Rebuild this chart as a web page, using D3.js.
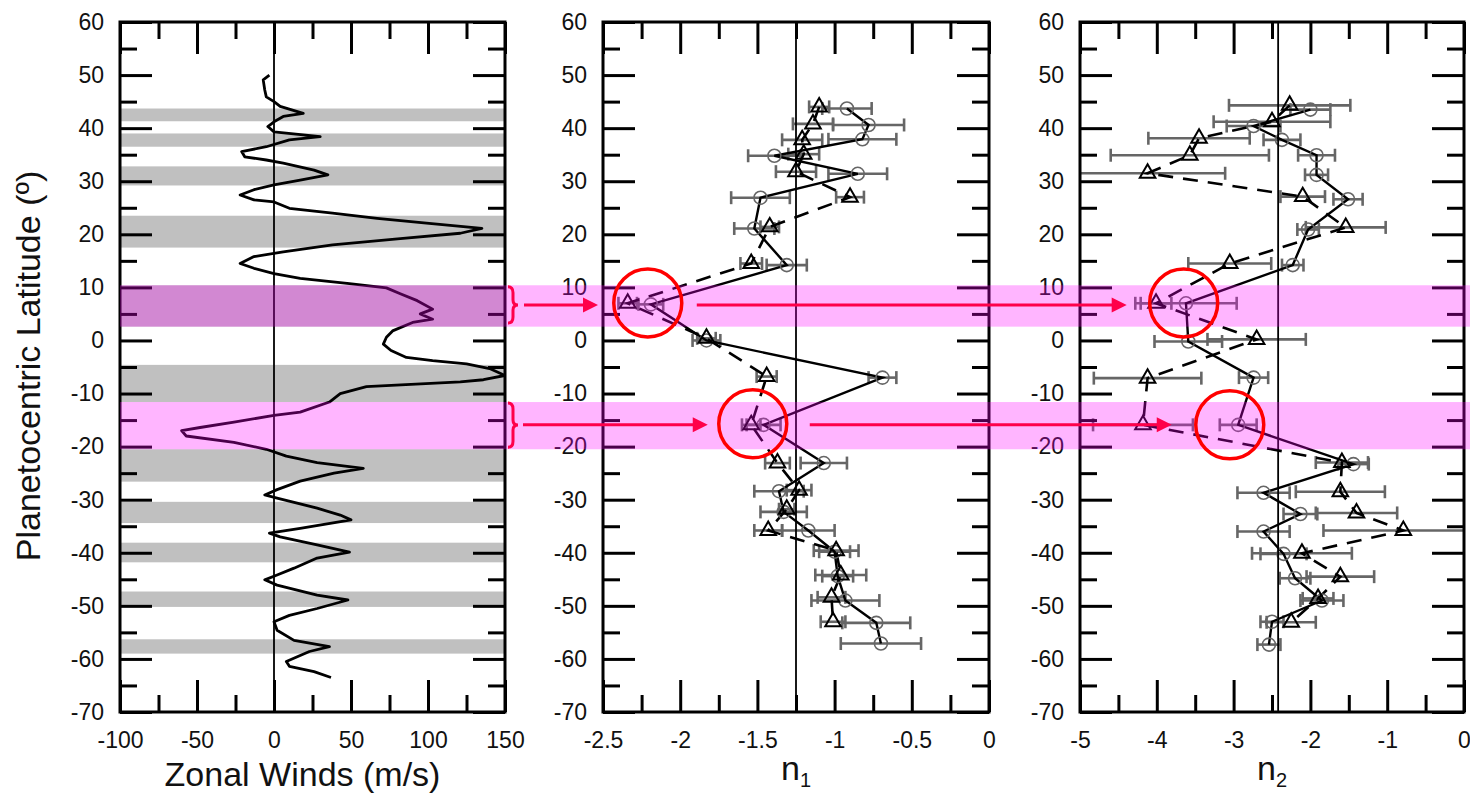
<!DOCTYPE html>
<html>
<head>
<meta charset="utf-8">
<script src="https://cdn.jsdelivr.net/npm/d3@7"></script>
<style>
body { margin: 0; background: #fff; }
text { font-family: "Liberation Sans", Arial, sans-serif; fill: #111; }
</style>
</head>
<body>
<svg id="chart" width="1470" height="795"></svg>
<script>
// ---- zonal wind profile (lat in deg, u in m/s) ----
var windLat = [50.0, 49.1, 47.2, 45.9, 45.0, 44.1, 42.8, 42.2, 41.2, 40.3,
               39.3, 38.4, 37.8, 36.5, 35.6, 34.6, 34.0, 33.4, 32.1, 31.2,
               30.2, 29.3, 28.4, 27.4, 26.5, 26.1, 24.9, 24.0, 23.0, 22.1,
               21.1, 20.2, 19.2, 18.0, 16.7, 15.8, 14.5, 13.6, 12.6, 11.7,
               10.7, 9.9, 8.8, 7.5, 5.9, 5.0, 4.0, 3.4, 1.8, 0.6,
               -0.7, -1.9, -3.2, -3.8, -4.4, -5.3, -6.6, -7.4, -7.8, -8.7,
               -10.0, -11.6, -13.5, -14.1, -15.4, -16.4, -17.0, -18.0, -19.2, -20.5,
               -21.8, -23.0, -24.1, -25.0, -26.5, -28.1, -29.1, -29.7, -31.6, -32.9,
               -33.8, -35.4, -36.3, -37.0, -38.5, -39.9, -41.0, -42.9, -44.2, -45.1,
               -46.1, -48.0, -48.9, -50.5, -51.8, -53.0, -54.6, -56.5, -57.7, -58.6,
               -60.5, -61.4, -62.4, -63.5];
var windU   = [-3, -7, -6, -5, 0, 4, 19, 6, 0, -4,
               0, 30, 10, -5, -21, -19, -5, 6, 26, 35,
               17, 0, -13, -22, -13, 0, 10, 38, 67, 99,
               135, 121, 82, 38, 6, -13, -22, -13, 0, 17,
               49, 73, 82, 93, 103, 95, 103, 90, 77, 73,
               71, 76, 86, 103, 125, 140, 150, 136, 121, 60,
               43, 36, 17, 0, -26, -48, -60, -57, -26, -5,
               8, 28, 58, 39, 17, 2, -6, 2, 28, 43,
               50, 17, -3, 4, 28, 49, 28, 13, 2, -6,
               2, 28, 48, 28, 10, 0, 2, 13, 36, 23,
               8, 10, 26, 37];

// gray latitude bands (north, south)
var grayBands = [[43.7, 41.3], [39.0, 36.5], [32.8, 29.2], [23.5, 17.5], [10.4, 2.6],
                 [-4.6, -11.6], [-20.5, -26.6], [-30.4, -34.4], [-38.1, -41.8],
                 [-47.3, -50.2], [-56.3, -59.0]];
// highlighted (pink) bands
var pinkBands = [[10.4, 2.6], [-11.6, -20.5]];

// ---- n1 ----
var n1CircLat = [43.7, 40.6, 37.9, 34.8, 31.4, 26.9, 21.1, 14.2, 6.8, 0.0, -7.0,
                 -15.9, -23.1, -28.4, -32.3, -35.8, -39.8, -44.4, -49.0, -53.2, -57.1];
var n1CircVal = [-0.92, -0.78, -0.82, -1.39, -0.85, -1.48, -1.52, -1.31, -2.19, -1.83, -0.69,
                 -1.46, -1.07, -1.36, -1.33, -1.17, -1.00, -0.98, -0.93, -0.73, -0.70];
var n1CircErr = [0.16, 0.23, 0.22, 0.17, 0.19, 0.19, 0.13, 0.13, 0.08, 0.09, 0.09,
                 0.11, 0.15, 0.16, 0.15, 0.17, 0.10, 0.10, 0.22, 0.22, 0.26];
var n1TriLat = [44.0, 40.8, 37.8, 35.1, 31.8, 27.0, 21.4, 14.5, 7.0, 0.4, -6.8,
                -15.9, -23.1, -28.2, -31.8, -35.8, -39.6, -44.2, -48.4, -53.0];
var n1TriVal = [-1.10, -1.14, -1.21, -1.20, -1.25, -0.90, -1.42, -1.54, -2.34, -1.83, -1.44,
                -1.54, -1.37, -1.23, -1.31, -1.43, -0.99, -0.96, -1.02, -1.01];
var n1TriErr = [0.065, 0.13, 0.13, 0.10, 0.13, 0.09, 0.06, 0.07, 0.06, 0.06, 0.065,
                0.06, 0.08, 0.08, 0.05, 0.09, 0.145, 0.165, 0.09, 0.08];

// ---- n2 ----
var n2CircLat = [43.5, 40.4, 37.8, 34.9, 31.2, 26.6, 20.9, 14.2, 7.0, -0.2, -7.0,
                 -15.9, -23.3, -28.7, -32.7, -36.0, -40.2, -44.8, -49.0, -53.0, -57.3];
var n2CircVal = [-2.00, -2.74, -2.37, -1.92, -1.92, -1.51, -2.03, -2.23, -3.62, -3.59, -2.74,
                 -2.94, -1.44, -2.61, -2.13, -2.61, -2.35, -2.20, -1.85, -2.50, -2.54];
var n2CircErr = [0.26, 0.35, 0.24, 0.24, 0.15, 0.19, 0.14, 0.14, 0.66, 0.44, 0.19,
                 0.24, 0.20, 0.34, 0.22, 0.34, 0.30, 0.20, 0.28, 0.15, 0.15];
var n2TriLat = [44.3, 41.2, 38.1, 34.9, 31.5, 27.1, 21.3, 14.5, 7.0, 0.2, -7.1,
                -15.9, -23.0, -28.5, -32.5, -35.8, -40.1, -44.5, -48.6, -53.1];
var n2TriVal = [-2.27, -2.50, -3.45, -3.57, -4.12, -2.10, -1.54, -3.05, -4.01, -2.70, -4.12,
                -4.18, -1.59, -1.61, -1.40, -0.79, -2.11, -1.61, -1.90, -2.25];
var n2TriErr = [0.79, 0.76, 0.66, 1.03, 1.01, 0.29, 0.52, 0.54, 0.20, 0.64, 0.70,
                0.65, 0.34, 0.58, 0.53, 1.04, 0.65, 0.44, 0.20, 0.32];

// annotation anchors
var arrowLat = [6.7, -15.9];
var braceLat = [[10.1, 3.3], [-11.8, -20.1]];
var ringN1 = [-2.21, -1.53], ringN1Lat = [7.06, -15.7];
var ringN2 = [-3.65, -3.05], ringN2Lat = [7.06, -15.9];

var latMajor = d3.range(-70, 61, 10);
var latMinor = d3.range(-65, 60, 10);

var panels = [
  {x0: 120, x1: 505, domain: [-100, 150], major: 50, ref: 0, title: "Zonal Winds (m/s)"},
  {x0: 603, x1: 989, domain: [-2.5, 0], major: 0.5, ref: -1.25, title: "n", sub: "1"},
  {x0: 1080, x1: 1464, domain: [-5, 0], major: 1, ref: -2.42, title: "n", sub: "2"}
];

var svg = d3.select("#chart");
var y = d3.scaleLinear().domain([-70, 60]).range([712, 22]);
var fmt = function(d) { return String(+d.toFixed(2)); };

function steps(d0, d1, s) {
  var n = Math.round((d1 - d0) / s), out = [];
  for (var i = 0; i <= n; i++) out.push(+(d0 + i * s).toFixed(4));
  return out;
}

function styleAxis(g) {
  g.select(".domain").remove();
  g.selectAll(".tick line").attr("stroke", "#000").attr("stroke-width", 3);
  g.attr("font-family", null).attr("font-size", null);
  g.selectAll(".tick text").style("font-size", "23px").attr("fill", "#111");
}

panels.forEach(function(p, i) {
  var x = d3.scaleLinear().domain(p.domain).range([p.x0, p.x1]);
  p.x = x;
  var g = svg.append("g");

  g.append("clipPath").attr("id", "clip" + i)
    .append("rect").attr("x", p.x0).attr("y", 22).attr("width", p.x1 - p.x0).attr("height", 690);
  var data = g.append("g").attr("clip-path", "url(#clip" + i + ")");

  if (i == 0) {
    data.selectAll("rect.band").data(grayBands).enter().append("rect")
      .attr("x", p.x0).attr("width", p.x1 - p.x0)
      .attr("y", function(d) { return y(d[0]); })
      .attr("height", function(d) { return y(d[1]) - y(d[0]); })
      .attr("fill", "#c0c0c0");
    var wind = windLat.map(function(l, k) { return [windU[k], l]; });
    data.append("path").datum(wind)
      .attr("d", d3.line().x(function(d) { return x(d[0]); }).y(function(d) { return y(d[1]); }))
      .attr("fill", "none").attr("stroke", "#000").attr("stroke-width", 2.8)
      .attr("stroke-linejoin", "round");
  } else {
    var circ = i == 1 ? [n1CircLat, n1CircVal, n1CircErr] : [n2CircLat, n2CircVal, n2CircErr];
    var tri = i == 1 ? [n1TriLat, n1TriVal, n1TriErr] : [n2TriLat, n2TriVal, n2TriErr];
    var cs = circ[0].map(function(l, k) { return {lat: l, v: circ[1][k], e: circ[2][k]}; });
    var ts = tri[0].map(function(l, k) { return {lat: l, v: tri[1][k], e: tri[2][k]}; });

    [cs, ts].forEach(function(s) {
      var eb = data.append("g").attr("stroke", "#666").attr("stroke-width", 2.6);
      s.forEach(function(d) {
        var yy = y(d.lat), xa = x(d.v - d.e), xb = x(d.v + d.e);
        eb.append("line").attr("x1", xa).attr("x2", xb).attr("y1", yy).attr("y2", yy);
        eb.append("line").attr("x1", xa).attr("x2", xa).attr("y1", yy - 6.5).attr("y2", yy + 6.5);
        eb.append("line").attr("x1", xb).attr("x2", xb).attr("y1", yy - 6.5).attr("y2", yy + 6.5);
      });
    });

    var line = d3.line().x(function(d) { return x(d.v); }).y(function(d) { return y(d.lat); });
    data.append("path").datum(cs).attr("d", line)
      .attr("fill", "none").attr("stroke", "#000").attr("stroke-width", 2.4);
    data.append("path").datum(ts).attr("d", line)
      .attr("fill", "none").attr("stroke", "#000").attr("stroke-width", 2.6)
      .attr("stroke-dasharray", "15,10");

    data.selectAll("circle.m").data(cs).enter().append("circle")
      .attr("cx", function(d) { return x(d.v); }).attr("cy", function(d) { return y(d.lat); })
      .attr("r", 6.5).attr("fill", "none").attr("stroke", "#666").attr("stroke-width", 1.6);
    var sym = d3.symbol().type(d3.symbolTriangle).size(105);
    data.selectAll("path.t").data(ts).enter().append("path")
      .attr("transform", function(d) { return "translate(" + x(d.v) + "," + y(d.lat) + ")"; })
      .attr("d", sym).attr("fill", "none").attr("stroke", "#000").attr("stroke-width", 2);
  }

  // reference vertical line
  g.append("line").attr("x1", x(p.ref)).attr("x2", x(p.ref)).attr("y1", 22).attr("y2", 712)
    .attr("stroke", "#000").attr("stroke-width", 1.8);

  // axes, ticks inside on all sides
  var xMaj = steps(p.domain[0], p.domain[1], p.major);
  var xMin = steps(p.domain[0] + p.major / 2, p.domain[1] - p.major / 2, p.major);
  g.append("g").attr("transform", "translate(0,712)")
    .call(d3.axisBottom(x).tickValues(xMaj).tickSize(-32).tickPadding(20).tickFormat(fmt)).call(styleAxis);
  g.append("g").attr("transform", "translate(0,712)")
    .call(d3.axisBottom(x).tickValues(xMin).tickSize(-17).tickFormat("")).call(styleAxis);
  g.append("g").attr("transform", "translate(0,22)")
    .call(d3.axisTop(x).tickValues(xMaj).tickSize(-32).tickFormat("")).call(styleAxis);
  g.append("g").attr("transform", "translate(0,22)")
    .call(d3.axisTop(x).tickValues(xMin).tickSize(-17).tickFormat("")).call(styleAxis);
  g.append("g").attr("transform", "translate(" + p.x0 + ",0)")
    .call(d3.axisLeft(y).tickValues(latMajor).tickSize(-32).tickPadding(16).tickFormat(fmt)).call(styleAxis);
  g.append("g").attr("transform", "translate(" + p.x0 + ",0)")
    .call(d3.axisLeft(y).tickValues(latMinor).tickSize(-17).tickFormat("")).call(styleAxis);
  g.append("g").attr("transform", "translate(" + p.x1 + ",0)")
    .call(d3.axisRight(y).tickValues(latMajor).tickSize(-32).tickFormat("")).call(styleAxis);
  g.append("g").attr("transform", "translate(" + p.x1 + ",0)")
    .call(d3.axisRight(y).tickValues(latMinor).tickSize(-17).tickFormat("")).call(styleAxis);

  g.append("rect").attr("x", p.x0).attr("y", 22).attr("width", p.x1 - p.x0).attr("height", 690)
    .attr("fill", "none").attr("stroke", "#000").attr("stroke-width", 3);

  // x title
  var cx = (p.x0 + p.x1) / 2;
  if (p.sub) {
    var t = g.append("text").attr("x", cx).attr("y", 780).attr("text-anchor", "middle")
      .style("font-size", "34px");
    t.append("tspan").text(p.title);
    t.append("tspan").attr("dy", 7).style("font-size", "20px").text(p.sub);
  } else {
    g.append("text").attr("x", cx - 10).attr("y", 786).attr("text-anchor", "middle")
      .style("font-size", "34px").text(p.title);
  }
});

svg.append("text").attr("transform", "translate(40,366) rotate(-90)")
  .attr("text-anchor", "middle").style("font-size", "34px")
  .text("Planetocentric Latitude (º)");

// ---- annotations ----
var P1 = panels[0], P2 = panels[1], P3 = panels[2];
var red = "#ff0000";
var ann = svg.append("g");

function arrow(xa, xb, yy) {
  ann.append("line").attr("x1", xa).attr("x2", xb - 12).attr("y1", yy).attr("y2", yy)
    .attr("stroke", red).attr("stroke-width", 3);
  ann.append("path").attr("d", "M" + xb + "," + yy + "L" + (xb - 15) + "," + (yy - 7.5) +
      "L" + (xb - 15) + "," + (yy + 7.5) + "Z").attr("fill", red);
}

braceLat.forEach(function(b) {
  var t0 = y(b[0]), t1 = y(b[1]), m = (t0 + t1) / 2;
  var bx0 = P1.x1 + 3, bx1 = P1.x1 + 8, bx2 = P1.x1 + 13;
  var pth = d3.path();
  pth.moveTo(bx0, t0);
  pth.quadraticCurveTo(bx1, t0, bx1, t0 + 6);
  pth.lineTo(bx1, m - 5);
  pth.quadraticCurveTo(bx1, m, bx2, m);
  pth.quadraticCurveTo(bx1, m, bx1, m + 5);
  pth.lineTo(bx1, t1 - 6);
  pth.quadraticCurveTo(bx1, t1, bx0, t1);
  ann.append("path").attr("d", pth.toString()).attr("fill", "none")
    .attr("stroke", red).attr("stroke-width", 3);
});

var ringR = 34;
var r1 = [P2.x(ringN1[0]), y(ringN1Lat[0])], r2 = [P3.x(ringN2[0]), y(ringN2Lat[0])];
var r3 = [P2.x(ringN1[1]), y(ringN1Lat[1])], r4 = [P3.x(ringN2[1]), y(ringN2Lat[1])];
arrow(P1.x1 + 19, P2.x0 - 5, y(arrowLat[0]));
arrow(r1[0] + 49, r2[0] - 57, y(arrowLat[0]));
arrow(P1.x1 + 18, r3[0] - 45, y(arrowLat[1]));
arrow(r3[0] + 57, r4[0] - 58, y(arrowLat[1]));

// translucent pink highlight over everything
svg.selectAll("rect.pink").data(pinkBands).enter().append("rect")
  .attr("x", P1.x0).attr("width", 1470 - P1.x0)
  .attr("y", function(d) { return y(d[0]); })
  .attr("height", function(d) { return y(d[1]) - y(d[0]); })
  .attr("fill", "#ff00ff").attr("fill-opacity", 0.29);

svg.selectAll("circle.ring").data([r1, r2, r3, r4]).enter().append("circle")
  .attr("cx", function(d) { return d[0]; }).attr("cy", function(d) { return d[1]; })
  .attr("r", ringR).attr("fill", "none").attr("stroke", red).attr("stroke-width", 3.5);
</script>
</body>
</html>
